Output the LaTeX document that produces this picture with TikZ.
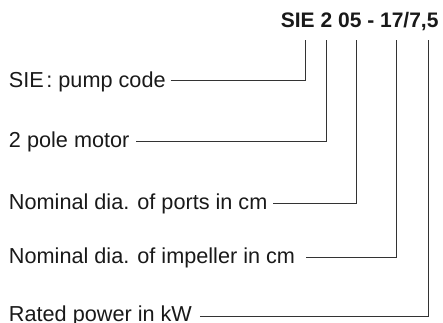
\documentclass[tikz,border=0pt]{standalone}
\usepackage{fontspec}
\setmainfont{Liberation Sans}
\begin{document}
\begin{tikzpicture}[x=1pt,y=-1pt,
  lbl/.style={anchor=base west,inner sep=0pt,outer sep=0pt,text=black!90,font=\fontsize{21.66}{26}\selectfont},
  ttl/.style={anchor=base east,inner sep=0pt,outer sep=0pt,text=black!90,font=\fontsize{21}{25}\selectfont\bfseries},
  conn/.style={draw=black!80,line width=0.8pt}]
\useasboundingbox (0,0) rectangle (443,322);
\clip (0,0) rectangle (443,322);
\node[ttl] (title) at (438.5,27.7) {SIE 2 05 - 17/7,5};
\coordinate (t1) at (305,40);
\coordinate (t2) at (326.7,40);
\coordinate (t3) at (356,40);
\coordinate (t4) at (396.5,40);
\coordinate (t5) at (428,40);
\node[lbl] (l1) at (9,87) {SIE\kern2.5pt: pump code};
\node[lbl] (l2) at (9,147.3) {2 pole motor};
\node[lbl] (l3) at (9,209.3) {Nominal dia. of ports in cm};
\node[lbl] (l4) at (9,263.3) {Nominal dia. of impeller in cm};
\node[lbl] (l5) at (9,321.5) {Rated power in kW};
\draw[conn] ([shift={(5pt,6.3pt)}]l1.base east) -| (t1);
\draw[conn] ([shift={(7pt,6.3pt)}]l2.base east) -| (t2);
\draw[conn] ([shift={(6pt,6.3pt)}]l3.base east) -| (t3);
\draw[conn] ([shift={(11pt,6.3pt)}]l4.base east) -| (t4);
\draw[conn] ([shift={(8pt,5.5pt)}]l5.base east) -| (t5);
\end{tikzpicture}
\end{document}
